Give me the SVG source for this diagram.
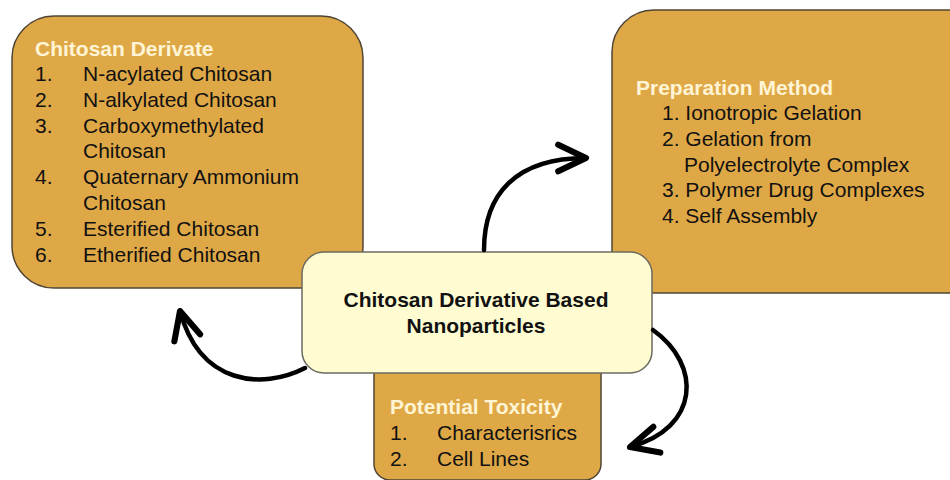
<svg xmlns="http://www.w3.org/2000/svg" width="950" height="480" viewBox="0 0 950 480">
<defs>
<style>
.box{fill:#DFA846;stroke:#4f4535;stroke-width:1.5}
.center{fill:#FFFCD2;stroke:#6b6b60;stroke-width:1.5}
.title{font-family:"Liberation Sans",Arial,sans-serif;font-weight:bold;font-size:21px;fill:#FFF4D4}
.item{font-family:"Liberation Sans",Arial,sans-serif;font-size:21px;fill:#111}
.ctext{font-family:"Liberation Sans",Arial,sans-serif;font-weight:bold;font-size:21px;fill:#111;text-anchor:middle}
.conn{fill:none;stroke:#000;stroke-width:4.5;stroke-linecap:round}
</style>
<marker id="head" markerUnits="userSpaceOnUse" markerWidth="40" markerHeight="40" refX="0" refY="0" viewBox="-32 -18 36 36" orient="auto" overflow="visible">
<path d="M -25 -12 L 0 0 L -25 12" fill="none" stroke="#000" stroke-width="5.5" stroke-linecap="round" stroke-linejoin="round"/>
</marker>
</defs>
<rect width="950" height="480" fill="#fff"/>

<g id="derivate">
<rect class="box" x="12" y="16" width="351" height="272" rx="42"/>
<text class="title" x="35" y="56">Chitosan Derivate</text>
<text class="item" x="35" y="81">1.</text><text class="item" x="83" y="81">N-acylated Chitosan</text>
<text class="item" x="35" y="107">2.</text><text class="item" x="83" y="107">N-alkylated Chitosan</text>
<text class="item" x="35" y="133">3.</text><text class="item" x="83" y="133">Carboxymethylated</text>
<text class="item" x="83" y="158">Chitosan</text>
<text class="item" x="35" y="184">4.</text><text class="item" x="83" y="184">Quaternary Ammonium</text>
<text class="item" x="83" y="210">Chitosan</text>
<text class="item" x="35" y="236">5.</text><text class="item" x="83" y="236">Esterified Chitosan</text>
<text class="item" x="35" y="262">6.</text><text class="item" x="83" y="262">Etherified Chitosan</text>
</g>

<g id="preparation">
<rect class="box" x="612" y="10" width="380" height="283" rx="42"/>
<text class="title" x="636" y="95">Preparation Method</text>
<text class="item" x="662" y="120">1. Ionotropic Gelation</text>
<text class="item" x="662" y="146">2. Gelation from</text>
<text class="item" x="684" y="172">Polyelectrolyte Complex</text>
<text class="item" x="662" y="197">3. Polymer Drug Complexes</text>
<text class="item" x="662" y="223">4. Self Assembly</text>
</g>

<g id="toxicity">
<rect class="box" x="374" y="330" width="227" height="150" rx="16"/>
<text class="title" x="390" y="414">Potential Toxicity</text>
<text class="item" x="390" y="440">1.</text><text class="item" x="437" y="440">Characterisrics</text>
<text class="item" x="390" y="466">2.</text><text class="item" x="437" y="466">Cell Lines</text>
</g>

<g id="center">
<rect class="center" x="302" y="252" width="350" height="121" rx="22"/>
<text class="ctext" x="476" y="307">Chitosan Derivative Based</text>
<text class="ctext" x="476" y="333">Nanoparticles</text>
</g>

<g id="connectors">
<path class="conn" d="M 484 250 C 484 195 515 158 586 158" marker-end="url(#head)"/>
<path class="conn" d="M 305 368 C 262 390 200 385 180 311" marker-end="url(#head)"/>
<path class="conn" d="M 653 330 C 702 365 700 428 630 447" marker-end="url(#head)"/>
</g>
</svg>
